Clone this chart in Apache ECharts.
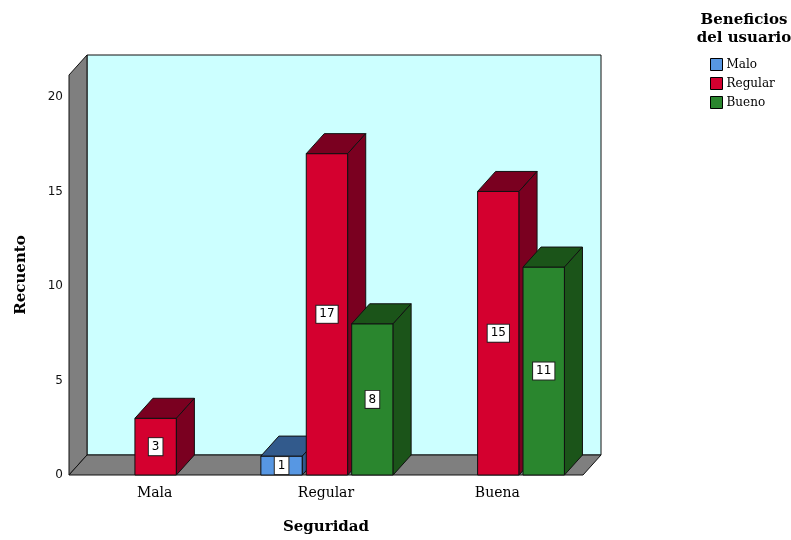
<!DOCTYPE html>
<html>
<head>
<meta charset="utf-8">
<script src="https://cdn.jsdelivr.net/npm/echarts@6/dist/echarts.min.js"></script>
<style>html,body{margin:0;padding:0;background:#fff;}#c{width:791px;height:540px;}</style>
</head>
<body>
<div id="c"></div>
<script>
const categories = ['Mala', 'Regular', 'Buena'];
const seriesNames = ['Malo', 'Regular', 'Bueno'];
const maloValues = [0, 1, 0];
const regularValues = [3, 17, 15];
const buenoValues = [0, 8, 11];
const yMax = 21.16;
const yInterval = 5;

const frontColors = ['#5797E3', '#D4002F', '#2A862E'];
const darkColors = ['#325A8C', '#7A0020', '#1B5419'];
const DX = 18, DY = -20;
const EDGE = '#111';

function wallsRender(params, api) {
  const cs = params.coordSys;
  const x0 = cs.x, x1 = cs.x + cs.width, y0 = cs.y, y1 = cs.y + cs.height;
  return {
    type: 'group',
    children: [
      { type: 'polygon', shape: { points: [[x0 + DX, y0 + DY], [x1 + DX, y0 + DY], [x1 + DX, y1 + DY], [x0 + DX, y1 + DY]] },
        style: { fill: '#CCFFFF', stroke: EDGE, lineWidth: 1 } },
      { type: 'polygon', shape: { points: [[x0, y0], [x0 + DX, y0 + DY], [x0 + DX, y1 + DY], [x0, y1]] },
        style: { fill: '#7F7F7F', stroke: EDGE, lineWidth: 1 } },
      { type: 'polygon', shape: { points: [[x0, y1], [x0 + DX, y1 + DY], [x1 + DX, y1 + DY], [x1, y1]] },
        style: { fill: '#7F7F7F', stroke: EDGE, lineWidth: 1 } }
    ]
  };
}

function makeBarRender(slot) {
  return function (params, api) {
    const v = api.value(1);
    if (!v) return null;
    const idx = api.value(0);
    const top = api.coord([idx, v]);
    const base = api.coord([idx, 0]);
    const band = api.size([1, 0])[0];
    const w = band * 0.242, step = band * 0.265;
    const cx = top[0] + 1 + (slot - 1) * step;
    const xl = cx - w / 2, xr = cx + w / 2, yt = top[1], yb = base[1];
    return {
      type: 'group',
      children: [
        { type: 'rect', shape: { x: xl, y: yt, width: w, height: yb - yt },
          style: { fill: frontColors[slot], stroke: EDGE, lineWidth: 1 } },
        { type: 'polygon', shape: { points: [[xl, yt], [xl + DX, yt + DY], [xr + DX, yt + DY], [xr, yt]] },
          style: { fill: darkColors[slot], stroke: EDGE, lineWidth: 1 } },
        { type: 'polygon', shape: { points: [[xr, yt], [xr + DX, yt + DY], [xr + DX, yb + DY], [xr, yb]] },
          style: { fill: darkColors[slot], stroke: EDGE, lineWidth: 1 } },
        { type: 'text', x: cx, y: (yt + yb) / 2,
          style: { text: String(v), fill: '#000', font: '12px "DejaVu Sans"', align: 'center', verticalAlign: 'middle',
            backgroundColor: '#fff', borderColor: '#222', borderWidth: 1, padding: [3, 3, 2, 3] } }
      ]
    };
  };
}

const valueSets = [maloValues, regularValues, buenoValues];
const barSeries = seriesNames.map((name, s) => ({
  name: name,
  type: 'custom',
  renderItem: makeBarRender(s),
  itemStyle: { color: frontColors[s] },
  data: categories.map((c, i) => [i, valueSets[s][i]]),
  encode: { x: 0, y: 1 },
  clip: false,
  z: 3
}));

const chart = echarts.init(document.getElementById('c'), null, { renderer: 'canvas' });
chart.setOption({
  animation: false,
  backgroundColor: '#fff',
  grid: { left: 69, top: 75, width: 514, height: 401 },
  xAxis: {
    type: 'category',
    data: categories,
    name: 'Seguridad',
    nameLocation: 'middle',
    nameGap: 45,
    nameTextStyle: { fontFamily: 'DejaVu Serif', fontWeight: 'bold', fontSize: 15, color: '#000' },
    axisLine: { show: false },
    axisTick: { show: false },
    axisLabel: { fontFamily: 'DejaVu Serif', fontSize: 14, color: '#000', margin: 11 }
  },
  yAxis: {
    type: 'value',
    min: 0,
    max: yMax,
    interval: yInterval,
    name: 'Recuento',
    nameLocation: 'middle',
    nameGap: 40,
    nameTextStyle: { fontFamily: 'DejaVu Serif', fontWeight: 'bold', fontSize: 15, color: '#000' },
    axisLine: { show: false },
    axisTick: { show: false },
    splitLine: { show: false },
    axisLabel: { fontFamily: 'DejaVu Sans', fontSize: 12, color: '#111', margin: 6, showMaxLabel: false }
  },
  legend: {
    data: seriesNames,
    orient: 'vertical',
    left: 710,
    top: 58,
    padding: 0,
    itemWidth: 12,
    itemHeight: 12,
    itemGap: 6,
    icon: 'rect',
    itemStyle: { borderColor: '#000', borderWidth: 1 },
    textStyle: { fontFamily: 'DejaVu Serif', fontSize: 12, color: '#000', padding: [0, 0, 0, -1] }
  },
  graphic: [{
    type: 'text',
    x: 744,
    y: 11,
    style: { text: 'Beneficios\ndel usuario', font: 'bold 15px "DejaVu Serif"', fill: '#000', align: 'center', lineHeight: 18 }
  }],
  series: [{
    type: 'custom',
    renderItem: wallsRender,
    data: [[0, 0]],
    encode: { x: 0, y: 1 },
    silent: true,
    clip: false,
    z: 1
  }].concat(barSeries)
});
</script>
</body>
</html>
